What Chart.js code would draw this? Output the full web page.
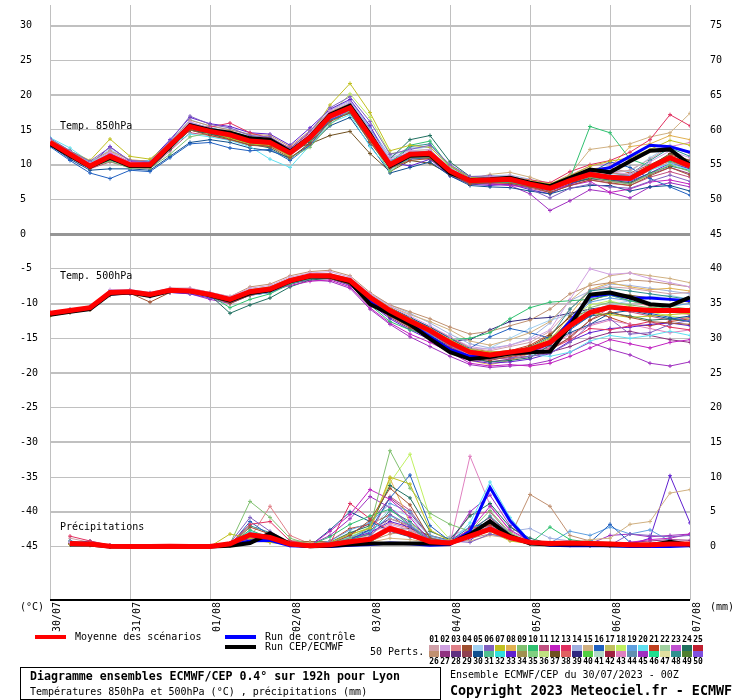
<!DOCTYPE html>
<html>
<head>
<meta charset="utf-8">
<script src="https://cdn.jsdelivr.net/npm/chart.js@4.4.0/dist/chart.umd.min.js"></script>
<style>
	html, body { margin: 0; padding: 0; background: #fff; }
</style>
</head>
<body>
<canvas id="myChart" width="740" height="700"></canvas>
<script>
// forecast steps (hours from 30/07 00Z)
const HOURS = [0,6,12,18,24,30,36,42,48,54,60,66,72,78,84,90,96,102,108,114,120,126,132,138,144,150,156,162,168,174,180,186,192];
const DAY_HOURS = [0,24,48,72,96,120,144,168,192];
const DAY_LABELS = ["30/07","31/07","01/08","02/08","03/08","04/08","05/08","06/08","07/08"];
const LEFT_TICKS = [30,25,20,15,10,5,0,-5,-10,-15,-20,-25,-30,-35,-40,-45];
const RIGHT_TICKS = [75,70,65,60,55,50,45,40,35,30,25,20,15,10,5,0];

// Temp 850hPa
const T850_MEAN = [13.2,11.5,9.8,11.2,10.0,10.0,12.8,15.5,14.8,14.3,13.4,13.2,11.7,13.9,17.0,18.2,14.1,10.0,11.5,11.6,9.1,7.7,7.8,7.9,7.2,6.6,7.7,8.6,8.2,8.0,9.6,11.0,9.8];
const T850_OPER = [13.0,11.3,9.7,11.0,9.8,9.8,12.6,15.7,15.0,14.6,13.8,13.6,11.9,14.0,17.2,18.5,14.4,9.8,11.3,11.4,8.8,7.8,7.9,8.1,7.4,6.9,8.1,9.3,8.9,10.5,12.0,12.2,10.0];
const T850_CTRL = [13.1,11.4,9.8,11.0,9.9,9.9,12.7,15.6,14.9,14.4,13.6,13.4,11.8,14.0,17.1,18.3,14.2,9.9,11.4,11.5,9.0,7.7,7.8,8.0,7.3,6.8,8.0,9.0,9.6,11.2,12.8,12.6,11.8];

// Temp 500hPa
const T500_MEAN = [-11.4,-11.0,-10.6,-8.4,-8.3,-8.7,-8.1,-8.2,-8.7,-9.4,-8.3,-7.9,-6.7,-6.0,-6.0,-6.7,-9.1,-11.0,-12.5,-13.9,-15.6,-17.0,-17.4,-17.0,-16.6,-15.6,-13.2,-11.3,-10.5,-10.8,-11.0,-11.0,-11.0];
const T500_OPER = [-11.6,-11.2,-10.8,-8.6,-8.4,-8.9,-8.2,-8.2,-8.8,-9.6,-8.5,-8.1,-6.8,-6.1,-6.1,-6.9,-10.1,-11.5,-13.0,-15.1,-17.0,-18.0,-17.7,-17.2,-17.0,-16.9,-13.2,-8.7,-8.4,-9.1,-10.1,-10.3,-9.1];
const T500_CTRL = [-11.5,-11.1,-10.7,-8.5,-8.4,-8.8,-8.2,-8.2,-8.7,-9.5,-8.4,-8.0,-6.8,-6.1,-6.1,-6.8,-9.8,-11.4,-12.9,-14.8,-16.6,-17.6,-17.6,-17.1,-16.8,-15.8,-12.6,-9.0,-8.6,-9.2,-9.2,-9.4,-9.6];

// Précipitations (mm)
const RR_MEAN = [null,0.45,0.35,0.05,0.0,0.0,0.05,0.0,0.0,0.4,1.7,1.3,0.35,0.1,0.25,0.7,1.05,2.6,1.75,0.7,0.5,1.5,2.5,1.3,0.6,0.45,0.5,0.45,0.35,0.25,0.25,0.35,0.35];
const RR_OPER = [null,0.3,0.3,0.0,0.0,0.0,0.0,0.0,0.0,0.1,0.5,1.9,0.35,0.05,0.1,0.3,0.45,0.45,0.45,0.45,0.45,1.75,3.65,1.5,0.45,0.3,0.3,0.3,0.2,0.2,0.2,0.7,0.25];
const RR_CTRL = [null,0.4,0.35,0.0,0.0,0.0,0.0,0.0,0.0,0.2,0.8,0.9,0.1,0.0,0.0,0.2,0.3,0.5,0.4,0.2,0.3,2.2,8.5,3.7,0.6,0.2,0.1,0.1,0.1,0.0,0.0,0.0,0.1];

// perturbed members drawn (numbers as in the legend), same order as the rows below
const MEMBER_IDS = [2,4,6,7,9,10,12,13,15,16,19,20,24,26,30,33,37,43,45,48,1,3,5,8,11,14,18,21,27,39];

const T850_MEMBERS = [
	[13.5,11.8,10.2,11.8,10.3,10.1,13.0,16.2,15.2,14.6,13.8,13.6,12.0,14.5,17.8,19.0,15.0,10.8,12.0,12.2,9.5,8.0,8.2,8.4,7.6,7.0,8.3,9.2,9.0,8.6,10.4,12.0,11.0],
	[13.0,11.2,9.5,10.8,9.8,9.7,12.4,15.0,14.2,13.6,12.8,12.6,11.0,13.0,16.2,17.5,13.2,9.5,10.6,10.9,8.6,7.2,7.4,7.3,6.8,6.0,7.0,7.8,7.4,7.0,8.4,9.6,8.5],
	[13.8,12.0,10.5,12.5,10.6,10.4,13.4,17.0,15.8,15.3,14.2,14.0,12.3,14.8,18.2,19.8,16.2,11.5,12.2,12.8,10.0,8.3,8.4,8.0,6.5,5.2,6.6,7.2,6.8,6.6,7.6,8.5,7.6],
	[13.6,12.0,10.6,13.7,11.2,10.8,13.2,15.2,14.7,13.8,13.0,12.8,11.2,14.2,18.6,21.7,17.5,12.0,12.8,12.5,9.8,8.2,8.0,8.3,7.7,7.2,8.4,9.8,10.5,11.0,12.2,13.5,12.8],
	[12.9,11.3,9.6,10.5,9.5,9.5,11.5,14.0,14.6,14.8,14.0,13.2,11.0,12.5,15.8,17.8,13.5,9.0,11.0,11.0,8.8,7.5,7.6,7.6,7.0,6.3,7.5,8.2,7.6,7.2,8.6,10.0,9.0],
	[13.1,11.4,9.9,11.0,10.0,9.9,12.6,15.6,15.0,14.2,13.3,12.9,11.4,13.5,16.8,18.0,14.0,10.2,12.8,13.4,9.6,7.4,7.5,7.4,6.8,6.5,8.0,15.5,14.6,10.8,9.8,10.5,9.6],
	[13.4,11.8,10.0,11.6,10.4,10.3,12.9,15.9,15.2,14.5,13.8,13.4,11.8,14.0,17.4,18.6,14.4,9.8,11.0,11.5,9.0,7.6,7.3,7.0,6.8,6.4,7.0,7.6,6.0,6.5,7.5,7.8,7.2],
	[13.3,11.6,10.0,11.4,10.2,10.0,13.0,15.6,15.4,16.0,14.6,13.8,12.4,14.6,17.2,18.4,14.6,10.4,11.6,12.0,9.4,8.0,8.2,8.2,7.8,7.4,9.0,10.0,10.6,11.8,13.6,17.2,15.6],
	[13.2,11.6,9.9,11.2,10.0,10.0,12.8,15.4,14.8,14.2,13.3,13.0,11.6,13.8,16.8,18.0,13.8,9.6,11.2,11.3,9.2,7.9,8.6,8.9,8.2,7.2,8.6,12.2,12.6,13.0,14.0,14.6,17.4],
	[12.6,10.6,8.8,8.0,9.2,9.0,11.0,13.0,13.2,12.4,12.0,12.2,10.6,12.8,16.4,17.6,13.6,9.6,10.8,11.0,8.8,7.2,7.4,7.5,6.9,6.4,7.8,8.8,10.4,9.6,8.0,6.8,5.6],
	[13.5,11.7,10.3,11.5,10.3,10.2,13.2,16.0,15.3,14.6,13.6,13.4,12.0,14.2,17.0,18.8,15.2,10.6,11.8,11.9,9.3,7.9,8.0,8.1,7.4,6.8,7.9,8.8,8.5,8.4,9.8,11.2,10.4],
	[13.9,12.4,10.4,11.6,10.2,10.6,12.7,14.4,14.0,13.5,12.6,10.8,9.6,12.8,16.0,17.2,12.6,9.2,11.0,11.4,9.0,7.4,7.6,7.8,7.3,6.7,7.6,8.4,8.0,7.8,9.2,10.2,9.2],
	[13.0,11.3,9.7,10.6,9.9,9.6,12.2,15.0,14.4,13.9,13.0,12.4,10.8,13.2,16.4,17.4,13.4,10.8,13.6,14.2,10.4,8.3,8.0,8.0,7.3,6.6,7.4,8.0,7.8,7.4,8.8,9.8,9.2],
	[13.4,11.9,10.4,12.0,10.7,10.5,13.2,16.4,15.6,15.0,14.4,14.2,12.6,14.9,17.6,18.8,14.8,10.6,11.4,11.2,8.8,7.6,7.8,8.0,7.6,7.0,8.2,9.0,8.8,8.6,9.8,11.0,10.2],
	[12.8,10.8,9.2,9.4,9.4,9.2,11.2,13.2,13.6,13.2,12.4,12.0,11.0,12.8,15.6,16.8,12.8,8.8,9.6,10.4,8.4,7.0,6.8,6.7,6.2,5.8,6.6,7.0,7.0,6.2,6.8,7.0,6.2],
	[13.6,12.0,10.0,12.6,10.5,10.6,13.6,16.8,15.9,15.5,14.6,14.4,12.8,15.3,18.0,19.4,15.6,10.4,9.8,10.8,8.4,7.2,7.0,7.2,6.4,5.8,7.2,8.2,7.8,7.6,8.8,10.2,9.4],
	[13.1,11.4,9.6,10.8,9.8,9.8,12.4,15.0,14.4,13.7,12.8,12.8,12.2,13.0,14.2,14.8,11.6,9.0,10.6,10.2,8.6,7.2,7.4,7.6,7.0,6.4,7.4,8.0,8.3,8.2,9.8,11.6,10.6],
	[13.3,11.6,10.0,11.2,10.1,10.0,12.8,15.8,15.1,14.4,13.5,13.4,11.9,14.4,17.6,18.6,14.4,10.2,11.8,11.8,9.4,7.8,7.9,8.2,7.6,7.0,8.5,9.8,10.2,10.8,12.0,12.6,13.2],
	[13.2,11.5,9.8,11.0,9.9,9.8,12.6,15.4,14.6,14.0,13.2,13.0,11.6,13.6,16.6,17.8,13.6,9.6,11.0,11.2,8.9,7.4,7.2,7.0,5.8,3.4,4.8,6.4,6.0,5.2,6.8,7.4,6.8],
	[13.4,11.7,10.1,11.4,10.1,10.3,13.0,15.6,14.9,14.6,13.8,13.6,12.1,14.0,17.2,18.4,14.4,10.0,12.6,13.0,9.8,8.0,8.1,8.2,7.5,6.9,7.8,8.8,8.4,8.6,10.6,12.4,11.2],
	[13.3,11.6,10.1,11.9,10.4,10.2,13.1,15.9,15.0,14.5,13.7,13.5,11.9,14.1,17.3,18.4,14.6,10.5,11.8,12.0,9.4,7.9,8.0,8.2,7.5,6.9,8.1,9.1,8.9,9.2,10.8,12.6,11.6],
	[13.0,11.3,9.6,10.9,9.8,9.8,12.5,15.3,14.6,14.0,13.2,12.9,11.5,13.7,16.9,18.0,13.9,9.8,11.3,11.4,8.9,7.6,7.6,7.7,7.0,6.5,7.5,8.4,8.0,7.7,9.2,10.4,9.4],
	[13.6,11.9,10.3,12.2,10.6,10.4,13.3,16.5,15.5,15.1,14.2,13.9,12.2,14.3,17.5,18.9,15.4,10.9,12.2,12.6,9.6,8.1,8.3,8.4,7.6,7.1,8.3,9.4,9.2,9.0,11.0,12.8,11.8],
	[13.4,11.7,10.0,11.3,10.1,10.1,12.9,15.5,14.9,14.4,13.5,13.3,11.8,14.1,17.1,18.3,14.2,10.1,11.6,11.7,9.2,7.8,7.9,8.0,7.3,6.7,7.8,8.7,9.6,12.6,13.0,14.2,13.6],
	[12.8,11.0,9.4,10.4,9.6,9.4,12.0,14.6,14.2,13.6,12.9,12.7,11.3,13.4,16.5,17.6,13.4,9.4,10.9,10.8,8.7,7.3,7.2,7.2,6.6,6.0,7.0,7.8,7.3,7.0,8.2,9.0,8.2],
	[13.5,11.8,10.2,11.6,10.3,10.4,13.3,16.1,15.3,14.8,14.0,13.8,12.3,14.6,17.9,19.2,15.4,11.2,12.4,12.5,9.9,8.2,8.4,8.5,7.9,7.2,8.2,9.0,8.8,8.4,9.6,10.6,9.9],
	[13.1,11.5,9.9,11.1,10.0,10.0,12.7,15.2,14.8,14.1,13.4,13.2,11.7,13.8,17.2,20.2,16.8,11.6,12.0,12.2,9.5,7.8,7.8,8.0,7.4,6.8,7.6,8.2,8.4,8.1,9.4,10.8,9.7],
	[13.2,11.6,9.8,11.4,10.1,10.0,12.9,15.7,15.2,14.6,13.5,13.3,11.8,14.2,17.5,18.7,14.6,10.2,11.4,11.4,9.1,7.6,7.7,7.8,7.1,6.6,7.8,9.4,9.6,8.8,10.0,11.4,10.6],
	[13.0,11.2,9.6,10.9,9.8,9.7,12.4,15.1,14.5,13.9,13.1,12.8,11.4,13.6,16.9,17.8,13.6,9.6,11.0,11.0,8.8,7.4,7.4,7.4,6.8,6.2,7.2,8.0,7.6,7.3,8.6,9.6,8.7],
	[13.3,11.6,9.9,11.2,10.0,10.1,12.8,15.6,14.9,14.4,13.6,13.3,11.7,13.9,17.0,18.3,14.0,9.9,11.4,11.6,9.1,7.7,7.8,7.9,7.2,6.7,7.8,8.6,8.2,8.1,9.7,11.2,10.0]
];

const T500_MEMBERS = [
	[-11.2,-10.8,-10.4,-8.0,-8.0,-8.4,-7.8,-7.8,-8.4,-9.0,-7.8,-7.4,-6.2,-5.6,-5.4,-6.2,-8.6,-10.4,-11.8,-13.2,-14.8,-16.2,-16.6,-16.0,-15.2,-13.8,-9.4,-5.0,-5.8,-5.6,-6.4,-7.0,-7.6],
	[-11.6,-11.2,-10.8,-8.8,-8.5,-9.8,-8.4,-8.2,-9.0,-10.0,-8.8,-8.2,-7.0,-6.2,-6.4,-7.2,-9.8,-11.8,-13.4,-14.8,-16.4,-17.8,-18.2,-17.6,-17.2,-16.8,-14.8,-12.4,-11.2,-12.0,-12.6,-12.8,-13.0],
	[-11.4,-11.0,-10.5,-8.2,-8.2,-8.6,-8.0,-8.3,-9.0,-9.8,-8.6,-8.0,-6.8,-6.2,-6.0,-6.8,-9.4,-11.6,-13.0,-14.4,-16.0,-17.6,-18.0,-17.8,-17.6,-17.2,-15.6,-13.0,-12.2,-14.4,-14.2,-13.0,-12.4],
	[-11.8,-11.3,-10.9,-8.6,-8.4,-8.8,-8.2,-8.4,-8.8,-9.2,-8.0,-7.6,-6.4,-5.8,-5.8,-6.4,-8.8,-10.6,-12.2,-13.6,-15.2,-16.6,-17.0,-16.8,-16.4,-15.0,-12.6,-11.4,-11.6,-12.0,-11.8,-11.6,-11.4],
	[-11.5,-11.0,-10.6,-8.5,-8.4,-8.8,-8.2,-8.3,-8.6,-9.6,-8.4,-8.0,-6.8,-6.0,-5.9,-6.6,-9.0,-11.0,-12.6,-14.0,-15.8,-17.2,-17.8,-17.4,-16.8,-15.4,-12.8,-10.6,-9.8,-10.2,-10.6,-10.4,-10.8],
	[-11.3,-10.9,-10.5,-8.3,-8.2,-8.6,-8.0,-8.1,-8.8,-10.6,-9.4,-8.6,-7.2,-6.4,-6.2,-7.0,-10.2,-12.6,-13.8,-14.6,-15.2,-15.0,-14.2,-12.2,-10.6,-9.8,-9.6,-9.4,-8.8,-9.6,-10.2,-10.8,-11.2],
	[-11.6,-11.1,-10.7,-8.4,-8.3,-8.6,-8.1,-8.2,-8.8,-9.4,-8.4,-8.2,-7.4,-6.8,-6.6,-7.6,-10.6,-12.8,-14.4,-15.6,-17.0,-18.6,-19.0,-18.8,-19.0,-18.6,-17.6,-16.4,-15.2,-15.8,-16.4,-15.6,-15.2],
	[-11.3,-10.9,-10.6,-8.2,-8.2,-8.6,-8.0,-8.0,-8.6,-9.2,-8.2,-7.8,-6.6,-6.0,-6.0,-6.8,-9.2,-11.2,-12.8,-14.2,-16.2,-17.6,-18.0,-17.8,-17.2,-16.6,-15.2,-13.6,-13.8,-13.2,-12.6,-13.4,-13.8],
	[-11.4,-11.0,-10.6,-8.4,-8.4,-8.8,-8.2,-8.2,-8.6,-9.2,-8.2,-7.8,-6.6,-5.8,-5.8,-6.5,-8.8,-10.4,-11.6,-12.6,-13.8,-15.4,-16.0,-15.2,-14.2,-12.6,-9.6,-7.2,-6.0,-5.6,-6.0,-6.4,-7.0],
	[-11.2,-10.9,-10.4,-8.2,-8.1,-8.5,-8.0,-8.0,-8.5,-9.2,-8.2,-7.8,-6.8,-6.2,-6.2,-7.0,-9.6,-11.4,-12.8,-14.4,-15.8,-16.4,-14.8,-13.6,-14.2,-15.0,-13.8,-11.8,-10.6,-10.8,-11.4,-12.0,-12.6],
	[-11.5,-11.1,-10.7,-8.5,-8.4,-8.8,-8.2,-8.3,-8.8,-9.6,-8.4,-8.0,-6.8,-6.1,-6.1,-6.8,-9.2,-11.0,-12.4,-13.8,-15.6,-17.0,-17.6,-17.2,-16.6,-15.2,-12.4,-9.8,-9.2,-9.6,-10.0,-10.4,-10.0],
	[-11.6,-11.2,-10.8,-8.6,-8.5,-8.9,-8.3,-8.4,-9.0,-9.8,-8.8,-8.4,-7.0,-6.2,-6.2,-7.0,-9.6,-11.4,-12.6,-13.8,-15.4,-16.8,-17.4,-17.2,-17.4,-17.6,-17.0,-15.4,-14.6,-15.0,-14.6,-14.0,-14.6],
	[-11.4,-11.0,-10.6,-8.4,-8.2,-8.6,-8.0,-8.2,-8.8,-11.4,-10.2,-9.2,-7.6,-6.6,-6.4,-7.2,-9.8,-11.8,-13.2,-14.6,-16.2,-17.8,-18.4,-18.2,-17.8,-16.0,-13.6,-11.8,-11.4,-11.8,-12.4,-12.2,-12.6],
	[-11.3,-10.9,-10.5,-8.2,-8.1,-8.5,-7.8,-7.8,-8.4,-9.0,-7.6,-7.2,-6.0,-5.4,-5.2,-6.0,-8.4,-10.2,-11.2,-12.2,-13.4,-14.4,-14.0,-13.2,-12.4,-10.8,-8.6,-7.4,-7.0,-6.6,-6.8,-7.2,-7.6],
	[-11.5,-11.1,-10.7,-8.5,-8.4,-8.8,-8.2,-8.3,-8.9,-9.6,-8.6,-8.2,-7.0,-6.2,-6.0,-6.6,-8.8,-10.6,-12.0,-13.4,-15.0,-16.6,-17.2,-16.8,-16.4,-15.8,-14.2,-13.0,-11.4,-11.0,-11.6,-12.2,-11.8],
	[-11.6,-11.2,-10.8,-8.8,-8.6,-9.0,-8.4,-8.6,-9.2,-9.8,-8.8,-8.4,-7.2,-6.4,-6.4,-7.4,-10.0,-12.2,-13.8,-15.2,-16.8,-18.2,-18.6,-18.4,-18.0,-17.2,-15.4,-14.2,-13.6,-13.4,-13.0,-12.8,-13.2],
	[-11.4,-11.0,-10.6,-8.3,-8.2,-8.6,-8.0,-8.1,-8.6,-9.4,-8.4,-8.0,-6.8,-6.0,-5.8,-6.6,-9.0,-10.8,-12.2,-13.6,-15.4,-16.8,-17.4,-17.0,-16.2,-14.6,-11.8,-9.6,-8.6,-8.8,-9.2,-9.4,-9.8],
	[-11.5,-11.1,-10.6,-8.4,-8.3,-8.7,-8.1,-8.2,-8.7,-9.4,-8.4,-8.0,-6.8,-6.2,-6.1,-6.9,-9.4,-11.4,-13.0,-14.4,-16.0,-17.4,-17.8,-17.4,-17.0,-16.2,-14.4,-13.2,-12.4,-13.0,-13.6,-14.2,-13.8],
	[-11.7,-11.3,-10.9,-8.6,-8.5,-8.9,-8.4,-8.6,-9.4,-10.0,-8.8,-8.4,-7.2,-6.6,-6.8,-7.8,-10.8,-13.0,-14.8,-16.2,-17.6,-18.8,-19.2,-19.0,-18.8,-18.2,-17.0,-15.6,-16.6,-17.4,-18.6,-19.0,-18.4],
	[-11.3,-10.9,-10.5,-8.3,-8.2,-8.6,-8.0,-8.1,-8.7,-9.6,-8.6,-8.2,-6.8,-6.0,-6.0,-6.8,-9.2,-11.0,-12.6,-14.0,-15.8,-17.0,-17.4,-17.0,-16.4,-14.8,-10.8,-8.2,-7.8,-8.2,-8.6,-9.0,-9.4],
	[-11.3,-10.9,-10.4,-8.2,-8.1,-8.5,-7.9,-8.0,-8.5,-9.2,-8.1,-7.7,-6.5,-5.8,-5.8,-6.5,-8.8,-10.6,-12.0,-13.4,-15.0,-16.4,-16.8,-16.2,-15.6,-14.0,-10.8,-8.0,-7.6,-7.8,-8.2,-8.6,-8.4],
	[-11.5,-11.1,-10.7,-8.5,-8.4,-8.8,-8.2,-8.3,-8.8,-9.5,-8.5,-8.1,-6.9,-6.2,-6.2,-6.9,-9.4,-11.4,-13.0,-14.6,-16.4,-17.8,-18.0,-17.6,-17.0,-15.8,-12.2,-9.4,-8.8,-9.6,-10.4,-11.2,-11.6],
	[-11.4,-11.0,-10.5,-8.3,-8.2,-8.6,-8.0,-8.1,-8.6,-9.3,-8.2,-7.8,-6.6,-5.9,-5.9,-6.6,-9.0,-10.8,-12.2,-13.6,-15.2,-16.6,-16.4,-15.0,-13.6,-12.4,-11.6,-11.0,-10.2,-9.6,-9.0,-8.8,-9.4],
	[-11.6,-11.2,-10.7,-8.6,-8.4,-8.8,-8.2,-8.3,-8.8,-9.6,-8.5,-8.2,-7.0,-6.3,-6.3,-7.2,-9.8,-11.8,-13.4,-15.0,-16.6,-18.2,-18.8,-18.2,-17.2,-15.4,-11.6,-8.0,-7.0,-7.6,-8.0,-7.8,-8.2],
	[-11.4,-11.0,-10.6,-8.4,-8.3,-8.7,-8.1,-8.2,-8.7,-9.4,-8.3,-7.9,-6.7,-6.0,-6.0,-6.7,-9.1,-11.1,-12.6,-14.0,-15.8,-17.2,-17.6,-17.2,-16.8,-16.4,-15.0,-12.4,-10.6,-11.2,-11.8,-12.4,-12.0],
	[-11.3,-10.9,-10.5,-8.3,-8.2,-8.6,-8.0,-8.1,-8.6,-9.2,-8.0,-7.6,-6.4,-5.8,-5.7,-6.4,-8.6,-10.2,-11.4,-12.8,-14.4,-15.8,-16.4,-16.0,-15.0,-12.8,-9.6,-8.2,-7.2,-7.4,-7.8,-8.2,-8.6],
	[-11.5,-11.1,-10.7,-8.5,-8.4,-8.8,-8.2,-8.3,-8.8,-9.6,-8.6,-8.2,-7.0,-6.2,-6.0,-6.8,-9.4,-11.2,-12.8,-14.2,-16.0,-17.6,-18.0,-17.6,-17.0,-15.6,-12.2,-10.2,-9.6,-10.4,-11.2,-11.8,-12.2],
	[-11.4,-11.0,-10.6,-8.4,-8.3,-8.7,-8.1,-8.2,-8.7,-9.4,-8.3,-7.9,-6.7,-6.0,-6.0,-6.7,-9.0,-10.8,-12.2,-13.4,-14.8,-16.4,-17.0,-16.8,-16.0,-14.4,-12.0,-11.0,-12.0,-13.0,-13.2,-12.6,-12.2],
	[-11.6,-11.2,-10.8,-8.6,-8.5,-8.9,-8.3,-8.4,-9.0,-9.8,-8.8,-8.4,-7.2,-6.4,-6.4,-7.2,-9.8,-12.0,-13.6,-15.0,-16.8,-18.0,-18.4,-18.0,-17.6,-17.0,-16.2,-15.0,-14.2,-14.0,-14.6,-15.2,-15.6],
	[-11.4,-11.0,-10.6,-8.4,-8.3,-8.7,-8.1,-8.2,-8.7,-9.4,-8.4,-8.0,-6.8,-6.1,-6.1,-6.8,-9.2,-11.0,-12.4,-13.8,-15.4,-15.2,-13.8,-12.6,-12.2,-12.0,-11.4,-10.8,-10.4,-10.6,-11.0,-11.2,-11.4]
];

const RR_MEMBERS = [
	[null,0.6,0.4,0.1,0,0,0,0,0,0.3,1.6,1.0,0.2,0.1,0.3,0.8,1.2,3.2,2.4,0.8,0.4,1.2,2.6,1.0,0.4,0.3,0.2,0.2,0.1,0.2,0.4,0.2,0.1],
	[null,0.4,0.3,0,0,0,0,0,0,0.2,2.8,1.8,0.4,0.1,0.4,1.6,3.8,8.4,6.0,1.2,0.6,2.0,3.2,1.4,0.6,0.4,0.3,0.2,0.2,0.1,0.2,0.3,0.2],
	[null,0.5,0.4,0.1,0,0,0,0,0,0.5,4.2,2.2,0.5,0.2,0.6,0.8,1.4,4.6,3.0,1.0,0.8,0.6,1.8,1.2,0.5,0.4,0.3,0.4,0.2,1.8,1.6,1.4,1.6],
	[null,0.3,0.2,0,0,0,0,0,0,1.8,1.2,0.6,0.3,0.2,0.6,1.8,2.6,10.0,9.0,2.4,0.8,1.4,2.2,0.8,0.4,0.3,0.2,0.1,0.1,0.1,0.2,0.1,0.1],
	[null,0.6,0.5,0.1,0,0,0,0,0,0.4,6.5,4.2,1.2,0.3,0.5,1.2,2.8,13.8,8.4,4.8,3.2,2.2,5.2,2.0,0.6,0.4,0.3,0.3,0.2,0.2,0.2,0.3,0.2],
	[null,0.4,0.3,0,0,0,0,0,0,0.3,2.4,1.2,0.3,0.2,1.4,3.2,4.4,5.4,3.0,0.6,0.4,1.8,3.6,1.4,0.4,2.8,1.0,0.6,0.4,0.2,0.3,0.2,0.1],
	[null,0.5,0.4,0.1,0,0,0,0,0,0.2,1.4,0.8,0.2,0.1,2.2,4.6,8.2,6.8,4.2,0.8,0.6,2.4,5.8,2.4,0.8,0.5,0.4,0.3,0.2,0.6,1.0,1.2,1.8],
	[null,1.5,0.8,0.2,0,0,0,0,0,0.4,3.2,3.6,0.8,0.3,0.4,6.2,4.0,2.2,1.6,0.6,0.4,2.6,3.0,1.2,0.6,0.4,0.3,0.2,0.2,0.1,0.2,0.2,0.1],
	[null,0.4,0.3,0,0,0,0,0,0,0.3,0.8,0.6,0.4,0.6,0.6,0.6,0.6,1.2,1.0,0.6,1.0,0.8,1.6,1.2,0.8,0.6,0.4,1.0,1.2,3.2,3.6,7.7,8.2],
	[null,0.5,0.8,0.1,0,0,0,0,0,0.2,3.6,1.6,0.3,0.1,0.3,1.0,2.4,7.0,10.3,3.0,0.8,2.8,3.4,1.2,0.5,0.4,0.3,0.6,3.2,0.6,0.3,0.2,0.1],
	[null,0.4,0.3,0,0,0,0,0,0,0.3,2.0,1.6,0.4,0.2,0.8,2.4,3.4,6.2,5.0,1.6,0.8,1.4,3.0,1.4,0.8,0.5,2.2,1.6,2.8,1.8,2.4,0.8,0.4],
	[null,0.3,0.3,0,0,0,0,0,0,0.5,2.2,1.4,0.3,0.2,0.5,1.4,2.2,4.4,3.2,1.0,0.6,3.4,9.3,4.2,0.8,0.4,0.3,0.2,0.2,0.1,0.2,0.2,0.1],
	[null,0.4,0.3,0.1,0,0,0,0,0,0.4,1.8,1.2,0.4,0.2,0.6,2.0,3.0,8.8,7.0,2.2,1.0,4.4,6.2,2.8,1.2,0.4,0.3,0.2,0.2,0.2,0.3,0.2,0.2],
	[null,0.6,0.5,0.1,0,0,0,0,0,0.3,1.0,0.8,0.8,0.6,0.4,0.6,0.8,1.8,2.2,1.0,0.8,1.2,1.8,1.4,7.5,5.8,1.6,0.8,0.6,0.4,0.4,0.3,0.3],
	[null,0.8,0.4,0.1,0,0,0,0,0,0.2,1.6,1.0,0.3,0.1,2.4,5.0,3.6,2.2,1.4,0.6,0.4,1.6,2.8,1.2,0.6,0.4,0.3,0.2,0.2,0.1,0.2,0.2,0.2],
	[null,0.4,0.3,0,0,0,0,0,0,0.3,1.2,0.8,0.2,0.1,0.4,1.2,2.0,3.6,2.8,0.8,0.4,1.0,2.4,1.0,0.4,0.3,0.2,0.2,0.2,0.3,1.2,10.2,3.4],
	[null,0.3,0.2,0,0,0,0,0,0,0.4,1.2,1.0,0.8,0.7,0.7,0.8,0.6,2.4,2.6,1.6,0.9,1.6,2.2,1.4,0.6,0.5,0.6,0.6,0.4,0.3,0.4,0.3,0.2],
	[null,0.4,0.3,0,0,0,0,0,0,0.3,1.4,1.0,0.3,0.1,0.6,1.4,2.2,3.0,2.0,0.6,0.4,13.0,6.0,2.2,0.8,0.4,0.3,0.2,0.1,0.1,0.2,0.1,0.1],
	[null,0.5,0.4,0.1,0,0,0,0,0,0.3,1.8,1.2,0.4,0.2,1.6,4.0,7.2,5.6,3.2,1.0,0.6,5.0,7.4,3.0,0.6,0.4,0.3,0.4,1.6,1.8,1.4,1.6,1.8],
	[null,0.4,0.3,0,0,0,0,0,0,0.3,3.0,2.0,0.5,0.2,0.4,1.0,1.8,5.2,3.6,1.2,0.6,2.0,4.4,1.8,0.5,0.4,0.3,0.2,0.2,0.2,0.2,0.2,0.2],
	[null,1.2,0.6,0.1,0,0,0,0,0,0.3,1.4,1.2,0.3,0.1,0.4,1.0,1.6,4.0,3.0,1.0,0.6,1.6,2.8,1.2,0.5,0.4,0.3,0.2,0.2,0.1,0.2,0.2,0.1],
	[null,0.4,0.3,0,0,0,0,0,0,0.3,1.2,5.8,1.6,0.4,0.4,1.0,1.8,3.4,2.6,0.8,0.6,1.8,3.0,1.2,0.4,0.3,0.2,0.2,0.2,0.2,0.2,0.2,0.1],
	[null,0.5,0.4,0.1,0,0,0,0,0,0.3,1.8,1.2,0.4,0.2,0.6,1.4,2.6,5.4,4.4,1.4,0.8,1.4,2.6,1.4,0.6,0.6,0.8,0.6,0.4,0.2,0.2,0.2,0.2],
	[null,0.4,0.3,0,0,0,0,0,0,0.2,1.2,0.8,0.3,0.1,0.4,1.2,2.2,9.8,3.4,1.2,0.6,1.4,2.4,1.0,0.4,0.3,0.3,0.2,0.2,0.1,0.2,0.2,0.1],
	[null,0.3,0.2,0,0,0,0,0,0,0.2,1.0,0.8,0.2,0.1,0.4,1.2,1.8,7.2,5.2,1.4,0.6,4.6,5.0,1.8,0.6,0.4,0.3,0.2,0.2,0.1,0.2,0.1,0.1],
	[null,0.4,0.3,0,0,0,0,0,0,0.3,1.0,0.6,0.2,0.1,0.3,0.8,1.4,2.6,2.0,0.8,1.4,2.8,3.2,2.2,2.6,1.2,0.8,0.6,0.4,0.3,0.2,0.2,0.2],
	[null,0.4,0.3,0,0,0,0,0,0,0.3,1.2,0.9,0.3,0.1,0.5,1.6,2.8,9.2,13.3,4.2,1.0,1.6,2.6,1.0,0.4,0.3,0.2,0.2,0.2,0.1,0.2,0.1,0.1],
	[null,0.5,0.4,0.1,0,0,0,0,0,0.3,1.4,1.0,0.3,0.2,0.8,2.6,3.2,4.6,2.4,1.0,0.6,2.0,3.4,1.6,0.6,0.4,0.3,0.2,0.2,0.2,0.3,0.2,0.2],
	[null,0.4,0.3,0,0,0,0,0,0,0.3,1.6,1.0,0.3,0.1,0.6,1.8,3.4,7.0,4.8,1.4,0.8,2.4,4.2,1.8,0.6,0.4,0.3,0.2,0.3,0.6,0.8,1.0,0.9],
	[null,0.4,0.3,0,0,0,0,0,0,0.3,1.2,0.8,0.3,0.1,0.5,1.4,2.4,4.0,3.0,1.0,0.6,1.8,2.8,1.2,0.5,0.4,0.3,0.2,0.2,0.1,0.2,0.2,0.1]
];

const PERT_COLORS = [
	"#d0a0a8","#d0a0e0","#e08088","#a05030","#a0d0f0","#8060c0","#c0c020","#e0b050","#80c070","#30c070",
	"#c05080","#c020c0","#e03060","#a0b0e0","#d0b080","#2060c0","#c0c060","#c0f060","#60a0e0","#60e0f0",
	"#c04020","#a0d0a0","#c050d0","#207060","#c02030",
	"#c09070","#903080","#603080","#904050","#105090","#50c090","#30e0e0","#6020d0","#a09050","#80d080",
	"#c0e080","#705020","#e06060","#302880","#50d040","#b0d8c8","#a02040","#e080c0","#6090b0","#a030c0",
	"#20e090","#e0e0a0","#309090","#508030","#8050e0"
];

const MONO = '"DejaVu Sans Mono", monospace';

function toPoints(vals) {
	return vals.map((v, i) => ({ x: HOURS[i], y: v }));
}

function memberSets(rows, axis) {
	return rows.map((vals, k) => {
		const c = PERT_COLORS[MEMBER_IDS[k] - 1];
		return {
			data: toPoints(vals),
			yAxisID: axis,
			borderColor: c,
			backgroundColor: c,
			borderWidth: 1,
			pointStyle: "cross",
			pointRadius: 2,
			pointBorderWidth: 1,
			pointBorderColor: c,
			order: 10,
		};
	});
}

function mainSets(mean, oper, ctrl, axis) {
	return [
		{ data: toPoints(ctrl), yAxisID: axis, borderColor: "#0000ff", borderWidth: 3, pointRadius: 0, order: 3 },
		{ data: toPoints(oper), yAxisID: axis, borderColor: "#000000", borderWidth: 4, pointRadius: 0, order: 2 },
		{ data: toPoints(mean), yAxisID: axis, borderColor: "#ff0000", borderWidth: 5, pointRadius: 0, order: 1 },
	];
}

const decor = {
	id: "decor",
	afterDraw(chart) {
		const ctx = chart.ctx;
		const area = chart.chartArea;
		const xs = chart.scales.x;
		ctx.save();

		// bottom axis
		ctx.strokeStyle = "#000";
		ctx.lineWidth = 2;
		ctx.beginPath();
		ctx.moveTo(area.left, area.bottom);
		ctx.lineTo(area.right, area.bottom);
		ctx.stroke();

		ctx.fillStyle = "#000";
		ctx.font = "10px " + MONO;

		// dates, written upwards
		DAY_HOURS.forEach((h, i) => {
			const px = xs.getPixelForValue(h);
			ctx.save();
			ctx.translate(px + 7.5, area.bottom + 2);
			ctx.rotate(-Math.PI / 2);
			ctx.textAlign = "right";
			ctx.textBaseline = "middle";
			ctx.fillText(DAY_LABELS[i], 0, 0);
			ctx.restore();
		});

		ctx.textAlign = "left";
		ctx.textBaseline = "middle";
		ctx.fillText("(°C)", 20, 607);
		ctx.fillText("(mm)", 710, 607);

		// panel names
		ctx.fillText("Temp. 850hPa", 60, 126);
		ctx.fillText("Temp. 500hPa", 60, 276);
		ctx.fillText("Précipitations", 60, 527);

		// legend
		ctx.fillStyle = "#ff0000";
		ctx.fillRect(35, 635, 31, 4);
		ctx.fillStyle = "#0000ff";
		ctx.fillRect(225, 635, 31, 4);
		ctx.fillStyle = "#000000";
		ctx.fillRect(225, 645, 31, 4);
		ctx.fillText("Moyenne des scénarios", 75, 637);
		ctx.fillText("Run de contrôle", 265, 637);
		ctx.fillText("Run CEP/ECMWF", 265, 647);
		ctx.fillText("50 Perts.", 370, 652);

		ctx.font = "bold 8px " + MONO;
		ctx.textAlign = "center";
		for (let i = 0; i < 25; i++) {
			const x0 = 429 + i * 11;
			ctx.fillStyle = PERT_COLORS[i];
			ctx.fillRect(x0, 645, 10, 6);
			ctx.fillStyle = PERT_COLORS[i + 25];
			ctx.fillRect(x0, 651, 10, 6);
			ctx.fillStyle = "#000";
			ctx.fillText(String(i + 1).padStart(2, "0"), x0 + 5, 640);
			ctx.fillText(String(i + 26), x0 + 5, 662);
		}

		// title box
		ctx.textAlign = "left";
		ctx.strokeStyle = "#000";
		ctx.lineWidth = 1;
		ctx.strokeRect(20.5, 667.5, 420, 32);
		ctx.font = "bold 11.6px " + MONO;
		ctx.fillText("Diagramme ensembles ECMWF/CEP 0.4° sur 192h pour Lyon", 30, 677);
		ctx.font = "10px " + MONO;
		ctx.fillText("Températures 850hPa et 500hPa (°C) , précipitations (mm)", 30, 692);
		ctx.fillText("Ensemble ECMWF/CEP du 30/07/2023 - 00Z", 450, 675);
		ctx.font = "bold 13.4px " + MONO;
		ctx.fillText("Copyright 2023 Meteociel.fr - ECMWF", 450, 692);

		ctx.restore();
	},
};

function drawChart() {
	const ctx = document.getElementById("myChart");
	const datasets = [].concat(
		mainSets(T850_MEAN, T850_OPER, T850_CTRL, "y"),
		mainSets(T500_MEAN, T500_OPER, T500_CTRL, "y"),
		mainSets(RR_MEAN, RR_OPER, RR_CTRL, "y2"),
		memberSets(T850_MEMBERS, "y"),
		memberSets(T500_MEMBERS, "y"),
		memberSets(RR_MEMBERS, "y2")
	);

	new Chart(ctx, {
		type: "line",
		data: { datasets: datasets },
		options: {
			responsive: false,
			animation: false,
			events: [],
			layout: { padding: { left: 20, right: 0, top: 0, bottom: 100 } },
			elements: { line: { tension: 0, fill: false } },
			plugins: {
				legend: { display: false },
				tooltip: { enabled: false },
			},
			scales: {
				x: {
					type: "linear",
					min: 0,
					max: 192,
					afterBuildTicks: (s) => { s.ticks = DAY_HOURS.map((v) => ({ value: v })); },
					afterFit: (s) => { s.height = 0; s.paddingLeft = 0; s.paddingRight = 0; },
					ticks: { display: false },
					border: { display: false },
					grid: { color: "#c0c0c0", lineWidth: 1, drawTicks: false },
				},
				y: {
					position: "left",
					min: -52.7,
					max: 33,
					afterBuildTicks: (s) => { s.ticks = LEFT_TICKS.map((v) => ({ value: v })); },
					afterFit: (s) => { s.width = 30; s.paddingTop = 0; s.paddingBottom = 0; },
					border: { display: false },
					grid: {
						drawTicks: false,
						color: (c) => (c.tick && c.tick.value === 0 ? "#959595" : "#c0c0c0"),
						lineWidth: (c) => {
							if (!c.tick) return 1;
							if (c.tick.value === 0) return 3;
							return c.tick.value % 10 === 0 ? 2 : 1;
						},
					},
					ticks: {
						autoSkip: false,
						crossAlign: "far",
						color: "#000",
						font: { family: "DejaVu Sans Mono", size: 10 },
					},
				},
				y2: {
					position: "right",
					min: -7.7,
					max: 78,
					afterBuildTicks: (s) => { s.ticks = RIGHT_TICKS.map((v) => ({ value: v })); },
					afterFit: (s) => { s.width = 50; s.paddingTop = 0; s.paddingBottom = 0; },
					border: { display: false },
					grid: { display: false, drawTicks: false },
					ticks: {
						autoSkip: false,
						padding: 20,
						color: "#000",
						font: { family: "DejaVu Sans Mono", size: 10 },
					},
				},
			},
		},
		plugins: [decor],
	});
}

drawChart();
</script>
</body>
</html>
